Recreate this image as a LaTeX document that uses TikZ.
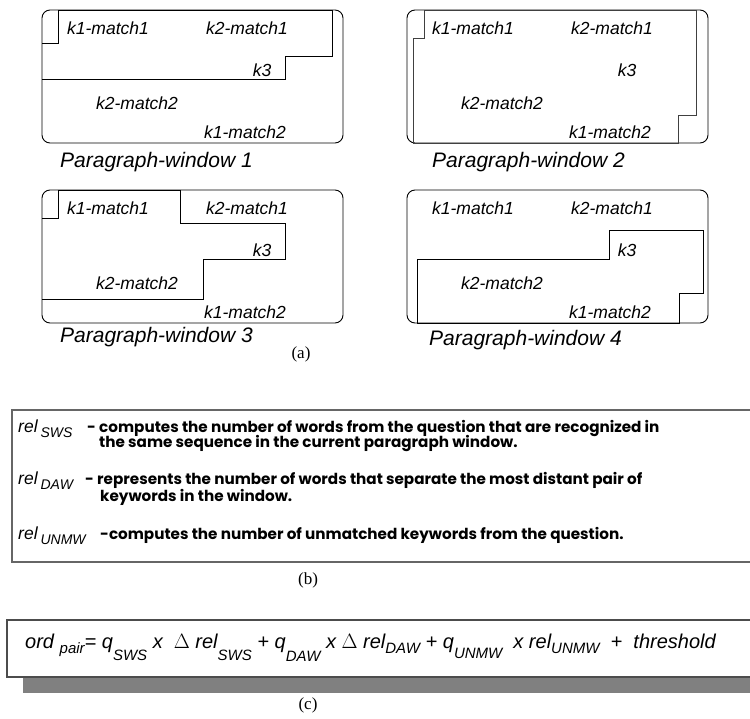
\documentclass[tikz,border=0pt]{standalone}
\usepackage{fontspec}
\usepackage{tikz}
\setmainfont{Liberation Serif}
\newfontfamily\arialfont{Liberation Sans}
\newfontfamily\gothfont{Poppins}

\newcommand{\kwf}{\arialfont\itshape\fontsize{17.5}{20}\selectfont}
\newcommand{\capf}{\arialfont\itshape\fontsize{21}{24}\selectfont}
\newcommand{\descf}{\gothfont\bfseries\fontsize{15.2}{17}\selectfont}
\newcommand{\relf}{\arialfont\itshape\fontsize{17.5}{19}\selectfont}
\newcommand{\subf}{\arialfont\itshape\fontsize{14}{15}\selectfont}
\newcommand{\eqf}{\arialfont\itshape\fontsize{20}{22}\selectfont}
\newcommand{\eqsubf}{\arialfont\itshape\fontsize{15}{16}\selectfont}
\newcommand{\dn}[2]{\raisebox{-#1pt}{\subf #2}}
\newcommand{\edn}[2]{\raisebox{-#1pt}{\eqsubf #2}}

\begin{document}
\begin{tikzpicture}[x=1pt,y=-1pt]
      \useasboundingbox (0,0) rectangle (750,719);
      % (a) the four paragraph windows
      \foreach \i/\ox/\oy/\cx/\cy in {1/42/10/60/162,2/407/10/432/162,3/42/190/60/337,4/407/190/429/340} {
        \draw [line width=0.9pt, rounded corners=8pt] (\ox,\oy) rectangle ({\ox+301},{\oy+133});
        \node (ka-\i) at ({\ox+66},{\oy+18}) {\kwf k1-match1};
        \node (kb-\i) at ({\ox+205},{\oy+18}) {\kwf k2-match1};
        \node (kc-\i) at ({\ox+220},{\oy+60}) {\kwf k3};
        \node (kd-\i) at ({\ox+95},{\oy+93}) {\kwf k2-match2};
        \node (ke-\i) at ({\ox+203},{\oy+122}) {\kwf k1-match2};
        \node [anchor=west, inner sep=0pt] (W-\i) at (\cx,\cy) {\capf Paragraph-window \i};
      }
      \draw [line width=0.9pt] (42,43) -- (58,43) -- (58,10) -- (332,10) -- (332,56) -- (285,56) -- (285,79) -- (42,79);
      \draw [line width=0.9pt, black!75] (413,38) -- (424,38) -- (424,10) -- (696,10) -- (696,115) -- (678,115) -- (678,143) -- (413,143) -- cycle;
      \draw [line width=0.9pt] (42,218) -- (58,218) -- (58,190) -- (180,190) -- (180,223) -- (285,223) -- (285,259) -- (203,259) -- (203,299) -- (42,299);
      \draw [line width=0.9pt] (417,323) -- (417,259) -- (609,259) -- (609,230) -- (703,230) -- (703,293) -- (679,293) -- (679,323) -- cycle;
      \node (a) at (301,354) {\fontsize{17}{20}\selectfont (a)};
      % (b) the three measures
      \draw [line width=1.2pt, black!60] (12,410) rectangle (760,562);
      \node [anchor=base west, inner sep=0pt] (r1) at (18,432) {\relf rel\,\dn{5}{SWS}};
      \node [anchor=base west, inner sep=0pt] (d1) at (87,432) {\descf - computes the number of words from the question that are recognized in};
      \node [anchor=base west, inner sep=0pt] (d1b) at (99,447) {\descf the same sequence in the current paragraph window.};
      \node [anchor=base west, inner sep=0pt] (r2) at (18,484) {\relf rel\,\dn{5}{DAW}};
      \node [anchor=base west, inner sep=0pt] (d2) at (85,484) {\descf - represents the number of words that separate the most distant pair of};
      \node [anchor=base west, inner sep=0pt] (d2b) at (100,501) {\descf keywords in the window.};
      \node [anchor=base west, inner sep=0pt] (r3) at (18,539) {\relf rel\,\dn{5}{UNMW}};
      \node [anchor=base west, inner sep=0pt] (d3) at (100,539) {\descf -computes the number of unmatched keywords from the question.};
      \node (b) at (308,580) {\fontsize{17}{20}\selectfont (b)};
      % (c) the ordering formula
      \fill [black!50] (23,677) rectangle (760,693);
      \draw [line width=1.1pt, black!70, fill=white] (7,620) rectangle (760,677);
      \node [anchor=base west, inner sep=0pt] (f) at (25,648) {\eqf
        ord \edn{5}{pair}= q\edn{12}{SWS} x \ $\Delta$ rel\edn{12}{SWS} + q\edn{13}{DAW} x $\Delta$ rel\edn{5}{DAW} + q\edn{10}{UNMW} \ x rel\edn{5}{UNMW} \ + \ threshold};
      \node (c) at (308,705) {\fontsize{17}{20}\selectfont (c)};
    \end{tikzpicture}
\end{document}
